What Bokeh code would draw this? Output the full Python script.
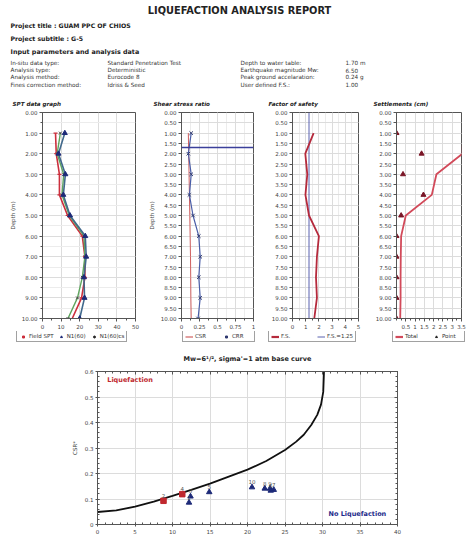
from bokeh.plotting import figure
from bokeh.layouts import row
from bokeh.models import (Range1d, Legend, LegendItem, LinearAxis, FixedTicker,
                          Span, ColumnDataSource, Label, PrintfTickFormatter)
from bokeh.core.properties import value
from bokeh.embed import file_html
from bokeh.resources import INLINE

# ---------------- data ----------------
report_title = "LIQUEFACTION ANALYSIS REPORT"
project_title = "Project title : GUAM PPC OF CHIOS"
project_subtitle = "Project subtitle : G-5"
section_title = "Input parameters and analysis data"
param_names_left = ["In-situ data type:", "Analysis type:", "Analysis method:", "Fines correction method:"]
param_values_left = ["Standard Penetration Test", "Deterministic", "Eurocode 8", "Idriss & Seed"]
param_names_right = ["Depth to water table:", "Earthquake magnitude Mw:", "Peak ground accelaration:", "User defined F.S.:"]
param_values_right = ["1.70 m", "6.50", "0.24 g", "1.00"]
panel_titles = ["SPT data graph", "Shear stress ratio", "Factor of safety", "Settlements (cm)"]

depth = [1, 2, 3, 4, 5, 6, 7, 8, 9, 10]
field_spt = [7.0, 7.4, 9.1, 9.1, 13.5, 21.4, 22.8, 22.8, 21.0, 16.0]
n1_60 = [12.0, 8.6, 12.3, 11.2, 14.8, 23.0, 23.5, 22.3, 22.6, 20.0]
n1_60cs = [9.6, 7.9, 11.4, 10.5, 14.4, 22.3, 22.8, 21.4, 18.8, 13.7]

water_table = 1.70
csr = [0.095, 0.100, 0.105, 0.110, 0.115, 0.120, 0.125, 0.128, 0.130, 0.135]
crr = [0.135, 0.095, 0.135, 0.110, 0.160, 0.240, 0.260, 0.240, 0.260, 0.230]

fs = [1.60, 0.97, 1.12, 0.98, 1.25, 2.00, 1.85, 1.78, 1.85, 1.65]
fs_limit = 1.25
fs_user = 1.00

settle_total = [3.60, 3.55, 2.15, 1.90, 0.50, 0.25, 0.23, 0.22, 0.22, 0.20]
settle_point = [0.0, 1.35, 0.35, 1.45, 0.25, 0.0, 0.0, 0.0, 0.0, 0.0]

base_n = [0, 2.5, 5, 7.5, 10, 12.5, 15, 17.5, 20, 22.5, 25, 26.5, 27.5, 28.5, 29.3, 29.8, 30.1, 30.2]
base_csr = [0.049, 0.055, 0.070, 0.090, 0.112, 0.136, 0.160, 0.188, 0.215, 0.249, 0.292,
            0.325, 0.352, 0.390, 0.430, 0.470, 0.520, 0.600]
chart_n = [12.2, 8.8, 12.4, 11.3, 14.9, 23.1, 23.5, 22.3, 23.0, 20.6]
chart_csr = [0.086, 0.093, 0.110, 0.119, 0.127, 0.133, 0.136, 0.141, 0.141, 0.146]
point_labels = ["1", "2", "3", "4", "5", "6", "7", "8", "9", "10"]

# ---------------- style ----------------
FONT = "DejaVu Sans"
TXT = "#333333"
GRID = "#dcdcdc"
FRAME = "#555555"
RED = "#cc2f3d"
NAVY = "#1d2a78"
BLUE_LINE = "#41698c"
GREEN = "#5ea55e"
CSR_RED = "#d06060"
CRR_BLUE = "#4a5ea8"
CRR_MARK = "#303a70"
FS_RED = "#b52a3c"
FS_BLUE = "#5a62b0"
TOT_RED = "#d24a5a"
PT_RED = "#7a1526"

# ---------------- header ----------------
hdr = figure(width=466, height=108, x_range=Range1d(0, 466), y_range=Range1d(108, 0),
             output_backend="svg", toolbar_location=None, min_border=0)
hdr.axis.visible = False
hdr.grid.visible = False
hdr.outline_line_color = None


def htext(fig, x, y, txt, size, style="normal", color=TXT, align="left"):
    fig.text(x=x, y=y, text=txt, text_font=value(FONT), text_font_size=size,
             text_font_style=style, text_color=color, text_baseline="middle", text_align=align)


htext(hdr, [239], [10], [report_title], "9.8px", "bold", "#222222", "center")
htext(hdr, [10], [25], [project_title], "6.2px", "bold", "#222222")
htext(hdr, [10], [38], [project_subtitle], "6.2px", "bold", "#222222")
htext(hdr, [10], [51], [section_title], "6.4px", "bold", "#222222")
rows_y = [62.5, 69.8, 76.8, 84.0]
htext(hdr, [10] * 4, rows_y, param_names_left, "5.7px")
htext(hdr, [107] * 4, rows_y, param_values_left, "5.7px")
htext(hdr, [240] * 4, rows_y, param_names_right, "5.7px")
htext(hdr, [345] * 4, rows_y, param_values_right, "5.7px")
htext(hdr, [12, 153, 268, 373], [103] * 4, panel_titles, "5.6px", "bold italic", "#222222")

# ---------------- depth panels ----------------
PANEL_H = 223


def panel(width, left, right, xr, xticks, xminor, xoverrides, ystep, ylabel, xminor_grid=True):
    p = figure(width=width, height=PANEL_H, x_range=Range1d(*xr), y_range=Range1d(10, 0),
               output_backend="svg", toolbar_location=None,
               min_border_left=left, min_border_right=right, min_border_top=4, min_border_bottom=11)
    p.outline_line_color = FRAME
    p.outline_line_width = 1
    yt = [i * ystep for i in range(int(round(10 / ystep)) + 1)]
    p.yaxis.ticker = FixedTicker(ticks=yt, minor_ticks=[i * 0.5 for i in range(21)])
    p.yaxis.formatter = PrintfTickFormatter(format="%.2f")
    p.xaxis.ticker = FixedTicker(ticks=xticks, minor_ticks=xminor)
    p.xaxis.major_label_overrides = xoverrides
    for ax in (p.xaxis, p.yaxis):
        ax.major_label_text_font = FONT
        ax.major_label_text_font_size = "5.5px"
        ax.major_label_text_color = "#444444"
        ax.axis_line_color = FRAME
        ax.major_tick_line_color = FRAME
        ax.minor_tick_line_color = FRAME
        ax.major_tick_out = 3
        ax.major_tick_in = 0
        ax.minor_tick_out = 2
        ax.minor_tick_in = 0
        ax.major_label_standoff = 2
    if ylabel:
        p.yaxis.axis_label = ylabel
        p.yaxis.axis_label_text_font = FONT
        p.yaxis.axis_label_text_font_size = "5.5px"
        p.yaxis.axis_label_text_font_style = "normal"
        p.yaxis.axis_label_text_color = "#444444"
        p.yaxis.axis_label_standoff = 3
    p.xgrid.grid_line_color = GRID
    p.ygrid.grid_line_color = GRID
    p.ygrid.minor_grid_line_color = "#ececec"
    if xminor_grid:
        p.xgrid.minor_grid_line_color = "#ececec"
    return p


# panel 1 : SPT
p1 = panel(145, 42, 10, (0, 50), [0, 10, 20, 30, 40, 50], [i * 5 for i in range(11)], {},
           1.0, "Depth (m)", xminor_grid=False)
p1.line(field_spt, depth, line_color=RED, line_width=1.6)
p1.scatter(field_spt, depth, marker="dash", size=4, line_color=RED, line_width=1.2)
p1.line(n1_60cs, depth, line_color=GREEN, line_width=1.4)
p1.scatter(n1_60cs, depth, marker="x", size=4, line_color="#444444", line_width=1)
p1.line(n1_60, depth, line_color=BLUE_LINE, line_width=1.6)
p1.scatter(n1_60, depth, marker="triangle", size=5, fill_color=NAVY, line_color=NAVY)

# panel 2 : shear stress ratio
p2 = panel(123, 30, 15, (0, 1), [0, 0.25, 0.5, 0.75, 1], [i * 0.125 for i in range(9)],
           {0: "0", 0.25: "0.25", 0.5: "0.5", 0.75: "0.75", 1: "1"}, 0.5, "Depth (m)")
p2.line(csr, depth, line_color=CSR_RED, line_width=1)
p2.line(crr, depth, line_color=CRR_BLUE, line_width=1.2)
p2.scatter(crr, depth, marker="x", size=5, line_color=CRR_MARK, line_width=1)
p2.add_layout(Span(location=water_table, dimension="width", line_color="#3a3f9a", line_width=1.6))

# panel 3 : factor of safety
p3 = panel(104, 22, 14, (0, 5), [0, 1, 2, 3, 4, 5], [i * 0.5 for i in range(11)], {}, 0.5, None)
p3.line([fs_limit, fs_limit], [0, 10], line_color=FS_BLUE, line_width=1)
p3.line(fs, depth, line_color=FS_RED, line_width=1.8)

# panel 4 : settlements
p4 = panel(94, 20, 5, (0, 3.5), [0.5, 1, 1.5, 2, 2.5, 3, 3.5], [i * 0.25 for i in range(15)],
           {1: "1", 2: "2", 3: "3"}, 0.5, None, xminor_grid=False)
p4.line(settle_total, depth, line_color=TOT_RED, line_width=1.8)
p4.scatter(settle_point, depth, marker="triangle", size=5, fill_color=PT_RED, line_color=PT_RED)


# ---------------- legend strips (below each panel) ----------------
# the strip's ranges lie far away from the data, so its renderers only feed the legend
def legend_strip(width, specs, x0, spacing=7):
    s = figure(width=width, height=12, x_range=Range1d(-1000, -999), y_range=Range1d(-1000, -999),
               output_backend="svg", toolbar_location=None, min_border=0)
    s.axis.visible = False
    s.grid.visible = False
    s.outline_line_color = None
    items = []
    for label, kind, xs, style in specs:
        if kind == "line":
            r = s.line(xs, depth, **style)
        else:
            r = s.scatter(xs, depth, marker=kind, **style)
        items.append(LegendItem(label=label, renderers=[r]))
    leg = Legend(items=items, orientation="horizontal", location=(x0, 1),
                 label_text_font=FONT, label_text_font_size="5.5px", label_text_color="#333333",
                 glyph_width=8, glyph_height=5, label_height=5, label_standoff=2,
                 padding=2, spacing=spacing, margin=0, border_line_color="#444444",
                 border_line_width=1.2, background_fill_alpha=1)
    s.add_layout(leg)
    return s


s1 = legend_strip(145, [("Field SPT", "square", field_spt, dict(size=3, fill_color=RED, line_color=RED)),
                        ("N1(60)", "triangle", n1_60, dict(size=5, fill_color=NAVY, line_color=NAVY)),
                        ("N1(60)cs", "circle", n1_60cs, dict(size=3, fill_color="#222222", line_color="#222222"))],
                  16, spacing=3)
s2 = legend_strip(123, [("CSR", "line", csr, dict(line_color=CSR_RED, line_width=1.2)),
                        ("CRR", "square_x", crr, dict(size=5, fill_color=CRR_MARK, line_color=CRR_MARK))], 37)
s3 = legend_strip(104, [("F.S.", "line", fs, dict(line_color=FS_RED, line_width=2.2)),
                        ("F.S.=1.25", "line", fs, dict(line_color=FS_BLUE, line_width=1))], 0, spacing=16)
s4 = legend_strip(94, [("Total", "line", settle_total, dict(line_color=TOT_RED, line_width=2.2)),
                       ("Point", "triangle", settle_point, dict(size=5, fill_color="#222222", line_color="#222222"))], 20)

# ---------------- base curve chart ----------------
pb = figure(width=466, height=193, x_range=Range1d(0, 40), y_range=Range1d(0, 0.6),
            output_backend="svg", toolbar_location=None,
            min_border_left=97, min_border_right=69, min_border_top=28, min_border_bottom=12)
pb.title.text = "Mw=6¹/², sigma'=1 atm base curve"
pb.title.align = "center"
pb.title.offset = -9
pb.title.standoff = 17
pb.title.text_font = FONT
pb.title.text_font_size = "6.5px"
pb.title.text_font_style = "bold"
pb.title.text_color = "#222222"
pb.outline_line_color = FRAME
x_major = [0, 5, 10, 15, 20, 25, 30, 35, 40]
y_major = [0, 0.1, 0.2, 0.3, 0.4, 0.5, 0.6]
xt = FixedTicker(ticks=x_major, minor_ticks=list(range(41)))
yt = FixedTicker(ticks=y_major, minor_ticks=[i * 0.02 for i in range(31)])
pb.xaxis.ticker = xt
pb.yaxis.ticker = yt
pb.add_layout(LinearAxis(ticker=xt, major_label_overrides={t: "" for t in x_major}), "above")
pb.add_layout(LinearAxis(ticker=yt, major_label_overrides={t: "" for t in y_major}), "right")
for ax in pb.axis:
    ax.major_label_text_font = FONT
    ax.major_label_text_font_size = "5.5px"
    ax.major_label_text_color = "#444444"
    ax.axis_line_color = FRAME
    ax.major_tick_line_color = FRAME
    ax.minor_tick_line_color = FRAME
    ax.major_tick_out = 2
    ax.major_tick_in = 2
    ax.minor_tick_out = 0
    ax.minor_tick_in = 2
    ax.major_label_standoff = 2
for ax in pb.above + pb.right:
    ax.major_tick_out = 0
    ax.major_tick_in = 3
    ax.major_label_standoff = 0
pb.yaxis[0].axis_label = "CSR*"
pb.yaxis[0].axis_label_text_font = FONT
pb.yaxis[0].axis_label_text_font_size = "5.5px"
pb.yaxis[0].axis_label_text_font_style = "normal"
pb.yaxis[0].axis_label_text_color = "#444444"
pb.yaxis[0].axis_label_standoff = 4
pb.xgrid.grid_line_color = GRID
pb.ygrid.grid_line_color = GRID

pb.line(base_n, base_csr, line_color="#111111", line_width=1.8)

liq = [f < fs_user for f in fs]
src_liq = ColumnDataSource(dict(x=[n for n, l in zip(chart_n, liq) if l],
                                y=[c for c, l in zip(chart_csr, liq) if l],
                                t=[t for t, l in zip(point_labels, liq) if l]))
src_ok = ColumnDataSource(dict(x=[n for n, l in zip(chart_n, liq) if not l],
                               y=[c for c, l in zip(chart_csr, liq) if not l],
                               t=[t for t, l in zip(point_labels, liq) if not l]))
pb.scatter("x", "y", source=src_liq, marker="square", size=5.5, fill_color="#c0282e", line_color="#c0282e")
pb.scatter("x", "y", source=src_ok, marker="triangle", size=5.5, fill_color=NAVY, line_color=NAVY)
for s in (src_liq, src_ok):
    pb.text("x", "y", text="t", source=s, text_font=value(FONT), text_font_size="5.5px",
            text_color="#555555", text_align="center", text_baseline="bottom", y_offset=-3)

pb.add_layout(Label(x=1.3, y=0.565, text="Liquefaction", text_font=FONT, text_font_size="6.5px",
                    text_font_style="bold", text_color="#c0282e", text_baseline="middle"))
pb.add_layout(Label(x=30.8, y=0.043, text="No Liquefaction", text_font=FONT, text_font_size="6.5px",
                    text_font_style="bold", text_color="#1d2a8a", text_baseline="middle"))

panels = row(p1, p2, p3, p4)
strips = row(s1, s2, s3, s4)
open("out.html", "w").write(file_html([hdr, panels, strips, pb], INLINE))
